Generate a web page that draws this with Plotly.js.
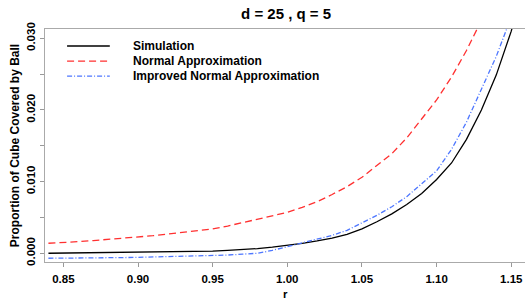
<!DOCTYPE html>
<html>
<head>
<meta charset="utf-8">
<script src="https://cdn.plot.ly/plotly-3.0.1.min.js"></script>
<style>html,body{margin:0;padding:0;background:#fff;}#chart{width:525px;height:299px;}</style>
</head>
<body>
<div id="chart"></div>
<script>
const r = [0.84,0.85,0.86,0.87,0.88,0.89,0.90,0.91,0.92,0.93,0.94,0.95,0.96,0.97,0.98,0.99,1.00,1.01,1.02,1.03,1.04,1.05,1.06,1.07,1.08,1.09,1.10,1.11,1.12,1.13,1.14,1.15,1.16];
const simulation = [0.00000,0.00002,0.00003,0.00004,0.00006,0.00008,0.00010,0.00013,0.00016,0.00020,0.00025,0.00030,0.00040,0.00050,0.00065,0.00085,0.00108,0.00138,0.00172,0.00212,0.00265,0.00340,0.00440,0.00550,0.00680,0.00835,0.01030,0.01260,0.01590,0.02000,0.02490,0.03100,0.03860];
const normalApprox = [0.00140,0.00148,0.00162,0.00177,0.00192,0.00208,0.00224,0.00245,0.00268,0.00292,0.00315,0.00340,0.00380,0.00425,0.00470,0.00520,0.00570,0.00640,0.00720,0.00820,0.00930,0.01060,0.01220,0.01390,0.01610,0.01870,0.02140,0.02460,0.02830,0.03250,0.03700,0.04200,0.04750];
const improvedApprox = [-0.00070,-0.00070,-0.00068,-0.00065,-0.00062,-0.00060,-0.00057,-0.00053,-0.00050,-0.00045,-0.00040,-0.00033,-0.00025,-0.00013,0.00000,0.00040,0.00090,0.00140,0.00190,0.00250,0.00320,0.00420,0.00530,0.00650,0.00790,0.00970,0.01150,0.01450,0.01830,0.02290,0.02750,0.03300,0.03900];
const seriesNames = ["Simulation","Normal Approximation","Improved Normal Approximation"];
const seriesColors = ["#000000","#ff3030","#4d76ff"];
const seriesDash = ["solid","7px,4px","5px,2px,1px,2px"];
const yTickVals = [0.000,0.005,0.010,0.015,0.020,0.025,0.030];
const yTickText = ["0.000","","0.010","","0.020","","0.030"];
const xTickVals = [0.85,0.90,0.95,1.00,1.05,1.10,1.15];
const xTickText = ["0.85","0.90","0.95","1.00","1.05","1.10","1.15"];
const xTitle = "r";

const FONT = "Liberation Sans, Arial, sans-serif";
const seriesY = [simulation, normalApprox, improvedApprox];
const traces = seriesY.map((ys, i) => ({
  x:r, y:ys, name:seriesNames[i], type:"scatter", mode:"lines",
  line:{color:seriesColors[i], width:1.3, dash:seriesDash[i]}
}));

// manual legend (layout decoration): sample line + label per series
const legendRowsY = [0.927, 0.862, 0.798];
const shapes = [], annotations = [];
seriesNames.forEach((nm, i) => {
  shapes.push({type:"line", xref:"paper", yref:"paper", x0:0.046, x1:0.135, y0:legendRowsY[i], y1:legendRowsY[i],
    line:{color:seriesColors[i], width:1.3, dash:seriesDash[i]}});
  annotations.push({xref:"paper", yref:"paper", x:0.179, y:legendRowsY[i], xanchor:"left", yanchor:"middle",
    text:"<b>"+nm+"</b>", showarrow:false, font:{family:FONT, size:12, color:"#000"}});
});
// x-axis title as annotation below tick labels
annotations.push({xref:"paper", yref:"paper", x:0.5, y:-0.137, xanchor:"center", yanchor:"middle", borderpad:0,
  text:"<b>"+xTitle+"</b>", showarrow:false, font:{family:FONT, size:11.5, color:"#000"}});

const layout = {
  width:525, height:299,
  margin:{l:45, r:0, t:29, b:37},
  paper_bgcolor:"#ffffff", plot_bgcolor:"#ffffff",
  font:{family:FONT, size:12, color:"#000"},
  title:{text:"<b>d = 25 , q = 5</b>", x:0.545, xanchor:"center", y:0.955, yanchor:"middle", font:{family:FONT, size:15, color:"#000"}},
  showlegend:false,
  shapes:shapes, annotations:annotations,
  xaxis:{range:[0.8377,1.1592], tickvals:xTickVals, ticktext:xTickText, ticks:"outside", ticklen:4, tickcolor:"#999", showline:true, linecolor:"#aaa", linewidth:1, mirror:true, showgrid:false, zeroline:false, tickfont:{family:FONT, size:11.5, weight:"bold"}, ticklabelstandoff:2, automargin:false},
  yaxis:{range:[-0.00122,0.0313], tickvals:yTickVals, ticktext:yTickText, tickangle:-90, ticks:"outside", ticklen:4, tickcolor:"#999", showline:true, linecolor:"#aaa", linewidth:1, mirror:true, showgrid:false, zeroline:false, tickfont:{family:FONT, size:11.5, weight:"bold"}, title:{text:"<b>Proportion of Cube Covered by Ball</b>", font:{family:FONT, size:12}, standoff:3}}
};
Plotly.newPlot("chart", traces, layout, {displayModeBar:false, staticPlot:true});
</script>
</body>
</html>
